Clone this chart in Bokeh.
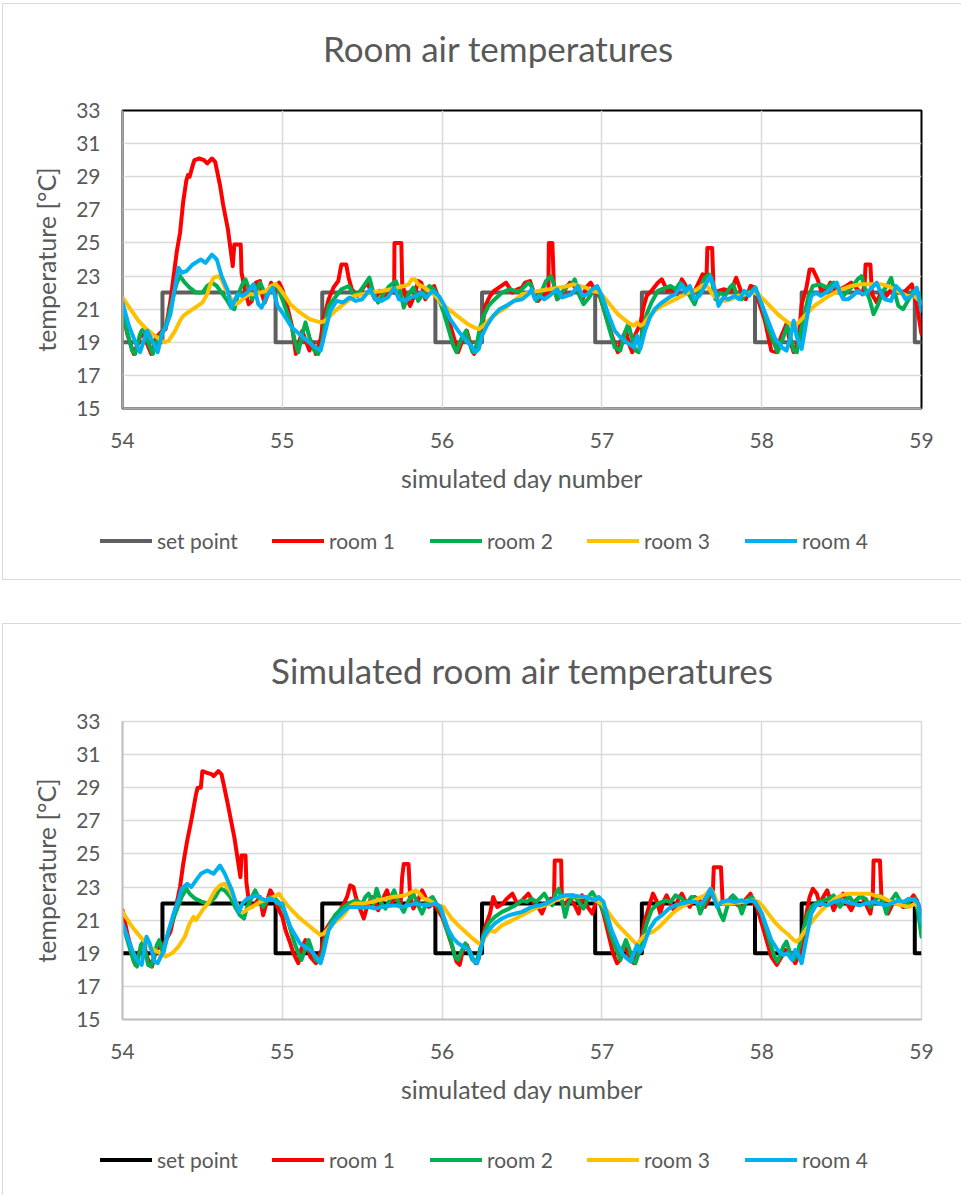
from bokeh.plotting import figure
from bokeh.models import Range1d, FixedTicker, Div
from bokeh.layouts import column
from bokeh.embed import file_html
from bokeh.resources import INLINE

# ---------------- data ----------------
x_ticks = [54, 55, 56, 57, 58, 59]
y_ticks = [15, 17, 19, 21, 23, 25, 27, 29, 31, 33]

setpoint_day = [54, 54.25, 54.958, 55.25, 55.958, 56.25, 56.958, 57.25, 57.958, 58.25, 58.958, 59]
setpoint_temp = [19, 22, 19, 22, 19, 22, 19, 22, 19, 22, 19, 19]

top_room1 = [
    (54.00, 21.0), (54.03, 19.5), (54.07, 18.3), (54.10, 19.0), (54.12, 19.7), (54.15, 19.0), (54.18, 18.3),
    (54.21, 19.3), (54.24, 19.6), (54.27, 19.8), (54.30, 21.5), (54.34, 24.5), (54.36, 25.6), (54.38, 27.5),
    (54.40, 28.8), (54.41, 29.1), (54.42, 29.0), (54.44, 29.7), (54.45, 30.0), (54.48, 30.1), (54.51, 30.0),
    (54.53, 29.8), (54.56, 30.1), (54.58, 29.9), (54.61, 28.5), (54.63, 27.3), (54.66, 25.8), (54.69, 23.6),
    (54.70, 24.9), (54.74, 24.9), (54.745, 23.2), (54.77, 22.0), (54.79, 21.3), (54.81, 21.5), (54.835, 22.6),
    (54.86, 22.7), (54.875, 21.8), (54.89, 21.4), (54.91, 21.9), (54.93, 22.6), (54.955, 22.0), (54.98, 22.6),
    (55.00, 22.2), (55.03, 21.2), (55.06, 20.0), (55.085, 18.3), (55.125, 19.7), (55.15, 19.0), (55.17, 18.5),
    (55.19, 19.0), (55.21, 18.3), (55.24, 19.2), (55.26, 20.5), (55.29, 21.6), (55.32, 22.3), (55.35, 22.7),
    (55.37, 23.7), (55.40, 23.7), (55.415, 22.9), (55.435, 22.2), (55.47, 21.8), (55.50, 22.2), (55.53, 22.6),
    (55.56, 22.0), (55.58, 21.6), (55.61, 22.1), (55.64, 21.8), (55.675, 22.2), (55.70, 22.0), (55.702, 25.0),
    (55.745, 25.0), (55.75, 22.6), (55.77, 21.8), (55.80, 21.2), (55.83, 21.9), (55.85, 22.7), (55.87, 22.6),
    (55.895, 21.6), (55.92, 22.0), (55.95, 22.4), (55.98, 21.6), (56.01, 21.2), (56.04, 20.4), (56.07, 19.4),
    (56.10, 18.4), (56.13, 19.2), (56.155, 19.7), (56.18, 18.8), (56.20, 18.3), (56.23, 19.0), (56.25, 19.8),
    (56.27, 21.2), (56.30, 21.8), (56.325, 22.1), (56.355, 22.3), (56.40, 22.6), (56.44, 22.0), (56.47, 22.2),
    (56.50, 22.3), (56.52, 22.6), (56.55, 22.7), (56.57, 22.1), (56.60, 21.5), (56.63, 21.8), (56.665, 22.0),
    (56.668, 25.0), (56.69, 25.0), (56.70, 22.3), (56.72, 21.6), (56.75, 21.9), (56.77, 22.2), (56.80, 22.6),
    (56.82, 22.5), (56.85, 22.0), (56.88, 21.6), (56.90, 22.3), (56.93, 22.6), (56.96, 22.1), (56.99, 21.7),
    (57.04, 20.1), (57.08, 18.9), (57.10, 18.4), (57.12, 19.1), (57.15, 19.7), (57.17, 18.9), (57.19, 18.4),
    (57.21, 19.5), (57.24, 20.1), (57.26, 21.1), (57.28, 21.8), (57.31, 22.1), (57.35, 22.6), (57.375, 22.8),
    (57.41, 22.1), (57.44, 22.2), (57.47, 21.9), (57.50, 22.8), (57.52, 22.5), (57.54, 22.1), (57.57, 21.9),
    (57.60, 22.5), (57.63, 23.1), (57.655, 23.0), (57.66, 24.7), (57.69, 24.7), (57.70, 21.9), (57.73, 22.1),
    (57.76, 22.2), (57.81, 22.1), (57.84, 22.9), (57.87, 22.1), (57.90, 21.6), (57.93, 22.4), (57.96, 22.3),
    (57.98, 21.5), (58.02, 20.3), (58.06, 18.5), (58.09, 18.4), (58.12, 19.3), (58.155, 20.1), (58.175, 19.1),
    (58.20, 18.4), (58.23, 19.1), (58.25, 21.3), (58.28, 22.3), (58.30, 23.4), (58.32, 23.4), (58.35, 22.8),
    (58.37, 22.2), (58.40, 22.1), (58.43, 22.6), (58.46, 22.1), (58.49, 22.2), (58.53, 22.4), (58.56, 22.6),
    (58.60, 22.2), (58.63, 21.9), (58.645, 22.6), (58.65, 23.7), (58.68, 23.7), (58.69, 21.9), (58.72, 21.4),
    (58.75, 22.1), (58.78, 21.8), (58.82, 22.3), (58.86, 22.0), (58.90, 22.1), (58.94, 22.5), (58.97, 21.3),
    (59.00, 19.5),
]

top_room2 = [
    (54.00, 20.8), (54.03, 19.6), (54.06, 18.5), (54.08, 18.3), (54.11, 19.5), (54.13, 19.8), (54.16, 19.0),
    (54.19, 18.3), (54.22, 19.2), (54.25, 19.6), (54.28, 20.2), (54.31, 21.5), (54.34, 22.6), (54.36, 23.0),
    (54.39, 22.6), (54.42, 22.3), (54.46, 22.0), (54.50, 22.0), (54.53, 22.4), (54.56, 22.6), (54.59, 22.4),
    (54.62, 22.0), (54.65, 21.6), (54.68, 21.1), (54.70, 21.0), (54.72, 21.8), (54.75, 22.5), (54.77, 22.8),
    (54.79, 22.3), (54.81, 21.6), (54.84, 22.2), (54.86, 22.6), (54.88, 22.2), (54.90, 21.8), (54.93, 22.4),
    (54.96, 22.5), (54.98, 22.1), (55.00, 21.6), (55.03, 20.8), (55.06, 19.9), (55.08, 19.0), (55.10, 18.4),
    (55.12, 19.3), (55.145, 20.2), (55.17, 19.3), (55.20, 18.5), (55.225, 18.3), (55.25, 19.0), (55.27, 20.4),
    (55.29, 21.2), (55.33, 21.7), (55.37, 22.2), (55.415, 22.4), (55.445, 21.9), (55.48, 22.0), (55.51, 22.4),
    (55.545, 22.9), (55.57, 22.0), (55.60, 21.4), (55.63, 21.9), (55.67, 22.4), (55.71, 22.7), (55.74, 22.0),
    (55.76, 21.1), (55.79, 21.9), (55.82, 22.3), (55.85, 21.5), (55.88, 21.9), (55.92, 22.4), (55.95, 22.2),
    (55.98, 21.6), (56.01, 20.8), (56.04, 19.8), (56.07, 18.8), (56.09, 18.4), (56.12, 19.2), (56.15, 19.7),
    (56.17, 19.0), (56.19, 18.4), (56.215, 18.8), (56.235, 19.8), (56.26, 20.6), (56.29, 21.2), (56.33, 21.6),
    (56.375, 22.0), (56.42, 22.2), (56.46, 22.1), (56.49, 22.1), (56.51, 22.3), (56.54, 22.6), (56.56, 22.4),
    (56.59, 21.5), (56.62, 22.0), (56.65, 22.7), (56.68, 23.0), (56.70, 22.5), (56.72, 21.6), (56.75, 22.0),
    (56.78, 22.4), (56.81, 22.5), (56.83, 22.8), (56.86, 21.8), (56.885, 21.3), (56.92, 21.7), (56.95, 22.2),
    (56.98, 22.0), (57.01, 21.1), (57.05, 19.7), (57.08, 18.7), (57.115, 18.5), (57.145, 19.6), (57.165, 20.1),
    (57.19, 19.2), (57.21, 18.5), (57.23, 18.4), (57.25, 19.5), (57.28, 20.7), (57.31, 21.4), (57.35, 22.1),
    (57.40, 22.3), (57.43, 22.4), (57.46, 22.2), (57.49, 22.6), (57.52, 22.3), (57.55, 21.8), (57.58, 21.3),
    (57.61, 22.1), (57.645, 22.9), (57.67, 23.1), (57.69, 22.6), (57.71, 21.6), (57.74, 22.0), (57.77, 21.8),
    (57.80, 22.3), (57.82, 22.5), (57.84, 22.0), (57.875, 21.6), (57.905, 22.0), (57.935, 22.1), (57.96, 22.3),
    (58.00, 21.3), (58.04, 19.9), (58.07, 19.1), (58.10, 18.4), (58.135, 19.3), (58.16, 20.0), (58.18, 19.3),
    (58.20, 18.5), (58.22, 18.4), (58.24, 19.5), (58.26, 20.3), (58.29, 21.7), (58.32, 22.4), (58.365, 22.5),
    (58.41, 22.3), (58.45, 22.6), (58.48, 22.2), (58.51, 21.8), (58.54, 22.1), (58.57, 22.4), (58.60, 22.8),
    (58.625, 23.0), (58.645, 22.3), (58.675, 21.6), (58.70, 20.7), (58.725, 21.2), (58.76, 22.1), (58.79, 22.5),
    (58.81, 22.9), (58.83, 22.1), (58.855, 21.2), (58.885, 21.0), (58.92, 21.6), (58.95, 22.1), (58.98, 22.0),
    (59.00, 21.3),
]

top_room3 = [
    (54.00, 21.7), (54.05, 21.0), (54.10, 20.3), (54.15, 19.8), (54.20, 19.4), (54.23, 19.2), (54.26, 19.0),
    (54.29, 19.1), (54.33, 19.7), (54.36, 20.3), (54.38, 20.6), (54.41, 20.8), (54.44, 21.0), (54.47, 21.2),
    (54.50, 21.4), (54.53, 21.9), (54.55, 22.5), (54.57, 22.9), (54.60, 23.0), (54.62, 22.8), (54.64, 22.3),
    (54.67, 21.8), (54.70, 21.3), (54.73, 21.4), (54.76, 21.7), (54.79, 21.9), (54.83, 21.9), (54.86, 22.0),
    (54.90, 22.1), (54.93, 22.4), (54.96, 22.5), (54.98, 22.3), (55.01, 21.9), (55.05, 21.3), (55.11, 20.8),
    (55.17, 20.4), (55.24, 20.2), (55.27, 20.3), (55.30, 20.6), (55.33, 20.9), (55.37, 21.2), (55.41, 21.5),
    (55.45, 21.8), (55.50, 21.9), (55.55, 22.0), (55.62, 22.1), (55.68, 22.2), (55.72, 22.3), (55.76, 22.4),
    (55.79, 22.5), (55.81, 22.8), (55.83, 22.8), (55.85, 22.5), (55.89, 22.3), (55.93, 22.0), (55.96, 21.8),
    (56.00, 21.3), (56.04, 21.0), (56.08, 20.7), (56.12, 20.4), (56.16, 20.1), (56.20, 19.9), (56.23, 19.8),
    (56.26, 20.0), (56.30, 20.4), (56.35, 20.8), (56.40, 21.1), (56.45, 21.5), (56.50, 21.9), (56.55, 22.0),
    (56.60, 22.1), (56.67, 22.2), (56.73, 22.3), (56.79, 22.4), (56.82, 22.5), (56.86, 22.4), (56.90, 22.3),
    (56.94, 22.1), (56.99, 22.0), (57.04, 21.4), (57.10, 20.7), (57.15, 20.3), (57.18, 20.1), (57.20, 20.0),
    (57.22, 20.2), (57.24, 20.0), (57.26, 20.1), (57.29, 20.5), (57.33, 20.9), (57.375, 21.2), (57.42, 21.4),
    (57.46, 21.6), (57.50, 21.8), (57.54, 22.0), (57.58, 22.1), (57.625, 22.4), (57.645, 22.5), (57.665, 22.3),
    (57.70, 21.8), (57.73, 21.6), (57.77, 21.5), (57.81, 21.6), (57.85, 21.8), (57.90, 21.9), (57.94, 22.0),
    (57.98, 21.9), (58.02, 21.5), (58.06, 21.1), (58.10, 20.7), (58.15, 20.3), (58.18, 20.1), (58.20, 20.2),
    (58.22, 20.1), (58.25, 20.4), (58.29, 20.8), (58.33, 21.2), (58.375, 21.5), (58.42, 21.8), (58.46, 22.0),
    (58.50, 22.2), (58.56, 22.4), (58.625, 22.5), (58.69, 22.5), (58.75, 22.5), (58.79, 22.4), (58.83, 22.2),
    (58.87, 22.0), (58.91, 21.8), (58.955, 21.8), (59.00, 21.4),
]

top_room4 = [
    (54.00, 21.4), (54.04, 20.0), (54.08, 19.0), (54.11, 18.4), (54.155, 19.7), (54.19, 19.0), (54.22, 18.4),
    (54.25, 19.6), (54.27, 19.9), (54.30, 20.7), (54.33, 22.4), (54.35, 23.5), (54.37, 23.2), (54.40, 23.3),
    (54.44, 23.7), (54.49, 24.0), (54.52, 23.8), (54.56, 24.3), (54.59, 24.0), (54.62, 23.0), (54.66, 22.1),
    (54.68, 21.1), (54.72, 21.9), (54.75, 21.8), (54.78, 22.0), (54.82, 22.5), (54.85, 21.3), (54.87, 21.1),
    (54.91, 21.9), (54.94, 22.3), (54.97, 21.2), (55.00, 20.8), (55.06, 19.9), (55.13, 19.3), (55.19, 18.8),
    (55.24, 18.5), (55.27, 19.7), (55.30, 20.9), (55.34, 21.5), (55.38, 21.4), (55.42, 21.7), (55.46, 21.5),
    (55.50, 21.6), (55.55, 22.2), (55.58, 21.6), (55.62, 21.5), (55.66, 21.7), (55.70, 22.3), (55.73, 21.6),
    (55.77, 21.5), (55.80, 21.7), (55.84, 21.8), (55.87, 22.0), (55.90, 21.7), (55.94, 22.1), (55.98, 21.8),
    (56.01, 21.3), (56.05, 20.4), (56.10, 19.7), (56.15, 19.1), (56.18, 18.8), (56.21, 18.4), (56.23, 18.6),
    (56.25, 19.4), (56.28, 20.0), (56.32, 20.6), (56.36, 21.0), (56.40, 21.2), (56.45, 21.5), (56.50, 21.6),
    (56.54, 21.9), (56.56, 22.2), (56.58, 21.6), (56.61, 21.8), (56.64, 21.6), (56.67, 21.8), (56.72, 22.2),
    (56.75, 21.7), (56.78, 21.8), (56.81, 21.9), (56.85, 22.4), (56.88, 21.8), (56.91, 21.9), (56.94, 22.2),
    (56.97, 22.4), (57.00, 21.8), (57.04, 20.7), (57.08, 19.7), (57.125, 19.2), (57.17, 18.9), (57.20, 18.7),
    (57.22, 19.4), (57.24, 18.6), (57.27, 19.7), (57.30, 20.5), (57.33, 21.0), (57.375, 21.4), (57.42, 21.7),
    (57.46, 21.9), (57.50, 22.5), (57.52, 22.0), (57.55, 22.4), (57.58, 21.6), (57.61, 21.8), (57.65, 22.5),
    (57.68, 23.0), (57.71, 22.1), (57.73, 21.2), (57.76, 21.7), (57.79, 21.6), (57.83, 21.8), (57.86, 21.6),
    (57.89, 22.1), (57.92, 21.8), (57.96, 22.3), (58.00, 21.3), (58.04, 20.3), (58.08, 19.3), (58.125, 18.7),
    (58.155, 18.5), (58.18, 19.3), (58.20, 20.3), (58.22, 19.3), (58.25, 18.6), (58.27, 19.7), (58.29, 20.9),
    (58.31, 21.8), (58.34, 22.0), (58.37, 21.8), (58.40, 22.0), (58.44, 22.3), (58.47, 22.6), (58.49, 22.0),
    (58.51, 21.6), (58.54, 21.6), (58.57, 21.8), (58.60, 22.1), (58.635, 21.9), (58.66, 22.0), (58.70, 22.4),
    (58.72, 22.6), (58.74, 22.1), (58.77, 21.6), (58.81, 21.5), (58.84, 22.4), (58.87, 22.1), (58.90, 21.6),
    (58.94, 21.8), (58.97, 22.3), (59.00, 20.9),
]

bottom_room1 = [
    (54.00, 21.6), (54.03, 20.2), (54.08, 18.3), (54.11, 19.2), (54.13, 19.7), (54.16, 18.6), (54.185, 18.2),
    (54.21, 19.2), (54.235, 19.4), (54.26, 19.6), (54.30, 20.3), (54.33, 21.6), (54.36, 23.0), (54.38, 24.4),
    (54.405, 25.8), (54.43, 27.0), (54.46, 28.6), (54.47, 29.0), (54.49, 29.0), (54.50, 30.0), (54.53, 29.9),
    (54.56, 29.8), (54.57, 29.7), (54.60, 30.0), (54.62, 29.8), (54.655, 28.2), (54.70, 26.0), (54.738, 23.6),
    (54.745, 24.9), (54.77, 24.9), (54.775, 23.3), (54.79, 22.2), (54.81, 21.8), (54.83, 22.0), (54.86, 22.4),
    (54.88, 21.3), (54.90, 22.0), (54.925, 22.8), (54.95, 22.4), (54.97, 21.8), (55.00, 21.2), (55.02, 20.4),
    (55.05, 19.6), (55.07, 19.0), (55.10, 18.4), (55.12, 19.3), (55.145, 19.8), (55.175, 18.8), (55.21, 18.4),
    (55.245, 19.2), (55.27, 20.4), (55.31, 21.0), (55.35, 21.4), (55.385, 22.0), (55.405, 22.4), (55.425, 23.1),
    (55.445, 23.0), (55.46, 22.4), (55.49, 21.6), (55.51, 21.1), (55.53, 21.8), (55.56, 22.4), (55.58, 22.1),
    (55.60, 21.6), (55.635, 22.4), (55.655, 22.8), (55.68, 22.0), (55.71, 22.4), (55.74, 21.9), (55.75, 23.6),
    (55.76, 24.4), (55.79, 24.4), (55.80, 22.4), (55.82, 21.7), (55.85, 22.2), (55.875, 22.8), (55.895, 22.4),
    (55.915, 21.8), (55.95, 22.0), (55.975, 21.6), (56.00, 21.2), (56.03, 20.4), (56.06, 19.5), (56.09, 18.5),
    (56.11, 18.3), (56.13, 19.2), (56.155, 19.5), (56.19, 18.7), (56.21, 18.4), (56.23, 18.7), (56.25, 19.8),
    (56.27, 20.6), (56.30, 21.4), (56.32, 22.4), (56.345, 21.8), (56.38, 22.0), (56.405, 22.3), (56.44, 22.6),
    (56.47, 22.0), (56.50, 22.2), (56.54, 22.6), (56.57, 22.1), (56.60, 21.8), (56.625, 21.4), (56.65, 22.0),
    (56.68, 22.3), (56.70, 22.2), (56.705, 24.6), (56.745, 24.6), (56.75, 22.1), (56.77, 22.0), (56.80, 22.3),
    (56.83, 21.9), (56.855, 21.4), (56.875, 22.5), (56.91, 21.8), (56.94, 21.4), (56.97, 22.3), (56.99, 22.0),
    (57.01, 21.4), (57.04, 20.2), (57.07, 19.0), (57.095, 18.4), (57.115, 18.6), (57.135, 19.4), (57.155, 19.2),
    (57.18, 18.6), (57.20, 18.4), (57.23, 19.2), (57.25, 20.0), (57.27, 21.0), (57.30, 22.0), (57.32, 22.6),
    (57.345, 22.1), (57.365, 21.4), (57.385, 22.1), (57.405, 22.5), (57.43, 22.0), (57.45, 21.6), (57.475, 22.2),
    (57.50, 22.6), (57.52, 22.2), (57.55, 21.8), (57.58, 22.4), (57.61, 22.2), (57.645, 21.8), (57.675, 22.4),
    (57.695, 22.8), (57.70, 24.2), (57.745, 24.2), (57.755, 22.2), (57.78, 22.0), (57.81, 22.4), (57.84, 22.0),
    (57.865, 21.8), (57.895, 22.2), (57.93, 22.6), (57.95, 22.0), (57.97, 21.8), (58.00, 20.8), (58.03, 19.8),
    (58.06, 18.8), (58.095, 18.3), (58.125, 18.8), (58.15, 19.2), (58.18, 18.9), (58.21, 18.4), (58.24, 19.0),
    (58.26, 20.0), (58.28, 21.4), (58.30, 22.4), (58.32, 22.9), (58.345, 22.6), (58.365, 21.9), (58.385, 22.4),
    (58.41, 22.8), (58.43, 22.2), (58.45, 21.6), (58.48, 22.2), (58.51, 22.6), (58.535, 22.0), (58.56, 21.6),
    (58.59, 22.2), (58.625, 22.5), (58.65, 22.0), (58.68, 21.4), (58.695, 22.3), (58.70, 24.6), (58.74, 24.6),
    (58.75, 22.2), (58.77, 22.0), (58.79, 21.4), (58.82, 22.0), (58.85, 22.1), (58.885, 21.8), (58.92, 22.1),
    (58.95, 22.5), (58.97, 22.2), (59.00, 21.4),
]

bottom_room2 = [
    (54.00, 20.8), (54.03, 19.8), (54.07, 18.5), (54.09, 18.2), (54.115, 19.5), (54.13, 19.7), (54.16, 18.3),
    (54.18, 18.2), (54.215, 19.5), (54.23, 19.8), (54.255, 19.0), (54.29, 20.4), (54.33, 21.4), (54.37, 22.4),
    (54.40, 22.9), (54.42, 22.6), (54.455, 22.3), (54.50, 22.1), (54.54, 22.0), (54.58, 22.4), (54.61, 22.9),
    (54.64, 22.8), (54.675, 22.4), (54.705, 21.8), (54.735, 21.3), (54.76, 21.1), (54.78, 21.8), (54.80, 22.2),
    (54.83, 22.8), (54.85, 22.4), (54.88, 21.8), (54.905, 22.2), (54.925, 22.4), (54.955, 22.3), (54.985, 22.0),
    (55.01, 21.6), (55.04, 20.8), (55.07, 19.8), (55.10, 19.0), (55.12, 18.6), (55.145, 19.3), (55.165, 19.8),
    (55.185, 19.2), (55.21, 18.6), (55.23, 18.5), (55.25, 18.9), (55.27, 19.9), (55.30, 20.8), (55.33, 21.3),
    (55.37, 21.7), (55.415, 22.0), (55.46, 22.2), (55.50, 22.0), (55.52, 22.4), (55.54, 22.6), (55.57, 22.0),
    (55.59, 22.9), (55.62, 22.0), (55.645, 21.7), (55.68, 22.4), (55.70, 22.8), (55.73, 22.0), (55.76, 21.5),
    (55.79, 22.2), (55.82, 22.6), (55.85, 21.9), (55.875, 21.4), (55.91, 22.2), (55.94, 22.4), (55.97, 21.9),
    (56.00, 21.4), (56.03, 20.4), (56.06, 19.6), (56.08, 18.8), (56.10, 18.6), (56.125, 19.2), (56.145, 19.6),
    (56.165, 19.2), (56.19, 18.6), (56.215, 18.5), (56.24, 19.3), (56.26, 20.1), (56.29, 20.8), (56.33, 21.2),
    (56.375, 21.5), (56.42, 21.7), (56.46, 21.9), (56.50, 22.2), (56.53, 22.1), (56.56, 22.3), (56.59, 22.1),
    (56.64, 22.6), (56.67, 22.1), (56.69, 21.9), (56.71, 22.6), (56.73, 22.9), (56.75, 22.2), (56.77, 21.2),
    (56.79, 22.0), (56.82, 22.5), (56.85, 22.2), (56.885, 21.7), (56.915, 22.4), (56.94, 22.7), (56.97, 22.2),
    (57.00, 21.8), (57.03, 21.0), (57.06, 20.0), (57.095, 19.1), (57.115, 18.6), (57.135, 19.4), (57.15, 19.8),
    (57.17, 19.3), (57.19, 18.6), (57.21, 18.4), (57.23, 19.0), (57.25, 19.7), (57.28, 20.8), (57.31, 21.6),
    (57.35, 22.0), (57.40, 22.2), (57.43, 22.1), (57.46, 22.5), (57.50, 22.3), (57.53, 22.0), (57.56, 22.4),
    (57.59, 22.3), (57.615, 21.4), (57.645, 22.1), (57.68, 22.7), (57.71, 22.2), (57.74, 21.4), (57.76, 21.0),
    (57.79, 22.0), (57.82, 22.5), (57.85, 22.2), (57.875, 21.4), (57.905, 22.2), (57.94, 22.4), (57.965, 22.0),
    (58.00, 21.4), (58.03, 20.4), (58.06, 19.4), (58.08, 18.8), (58.10, 18.5), (58.135, 19.4), (58.155, 19.7),
    (58.175, 19.1), (58.20, 18.6), (58.22, 18.9), (58.24, 19.6), (58.26, 20.4), (58.29, 21.4), (58.32, 21.9),
    (58.355, 22.1), (58.39, 22.2), (58.42, 22.3), (58.45, 22.5), (58.47, 22.1), (58.49, 21.8), (58.52, 22.2),
    (58.55, 22.4), (58.58, 22.0), (58.61, 22.4), (58.65, 22.3), (58.68, 21.8), (58.71, 22.2), (58.74, 22.5),
    (58.76, 22.1), (58.78, 21.4), (58.81, 22.2), (58.84, 22.6), (58.87, 22.1), (58.90, 21.8), (58.93, 22.2),
    (58.96, 22.3), (58.98, 21.4), (59.00, 20.0),
]

bottom_room3 = [
    (54.00, 21.5), (54.06, 20.6), (54.12, 19.9), (54.18, 19.3), (54.235, 19.0), (54.27, 18.8), (54.31, 19.0),
    (54.35, 19.4), (54.39, 20.0), (54.42, 20.8), (54.445, 21.2), (54.46, 21.0), (54.50, 21.6), (54.54, 22.1),
    (54.58, 22.8), (54.61, 23.1), (54.64, 23.2), (54.67, 22.8), (54.705, 22.2), (54.74, 21.5), (54.76, 21.5),
    (54.79, 21.7), (54.83, 21.9), (54.86, 22.1), (54.89, 22.2), (54.93, 22.3), (54.96, 22.5), (54.98, 22.6),
    (55.00, 22.3), (55.04, 21.8), (55.10, 21.2), (55.15, 20.8), (55.20, 20.4), (55.24, 20.1), (55.26, 20.2),
    (55.29, 20.5), (55.32, 20.8), (55.36, 21.1), (55.39, 21.4), (55.42, 21.8), (55.45, 22.0), (55.50, 22.0),
    (55.56, 22.1), (55.60, 22.2), (55.645, 22.3), (55.69, 22.4), (55.73, 22.45), (55.77, 22.5), (55.81, 22.7),
    (55.835, 22.8), (55.86, 22.6), (55.885, 22.3), (55.92, 22.2), (55.95, 22.0), (55.98, 21.9), (56.01, 21.8),
    (56.03, 21.5), (56.06, 21.1), (56.10, 20.7), (56.145, 20.3), (56.19, 19.9), (56.23, 19.6), (56.25, 19.6),
    (56.27, 20.0), (56.30, 20.4), (56.33, 20.3), (56.375, 20.7), (56.42, 20.9), (56.46, 21.1), (56.50, 21.3),
    (56.56, 21.6), (56.60, 21.8), (56.65, 21.9), (56.69, 22.1), (56.73, 22.3), (56.77, 22.4), (56.81, 22.5),
    (56.855, 22.4), (56.90, 22.4), (56.94, 22.3), (57.00, 22.0), (57.03, 21.6), (57.06, 21.2), (57.10, 20.7),
    (57.15, 20.2), (57.18, 19.9), (57.20, 19.7), (57.22, 19.5), (57.24, 19.8), (57.26, 20.0), (57.29, 20.2),
    (57.32, 20.3), (57.36, 20.6), (57.40, 21.0), (57.44, 21.4), (57.48, 21.7), (57.52, 21.9), (57.56, 22.1),
    (57.60, 22.3), (57.645, 22.5), (57.68, 22.9), (57.70, 22.6), (57.72, 22.1), (57.75, 22.0), (57.80, 22.0),
    (57.875, 22.1), (57.95, 22.2), (57.98, 22.1), (58.01, 21.8), (58.04, 21.4), (58.08, 20.9), (58.12, 20.5),
    (58.17, 20.1), (58.20, 19.8), (58.22, 19.7), (58.24, 19.9), (58.26, 20.2), (58.29, 20.6), (58.33, 21.1),
    (58.375, 21.6), (58.42, 22.0), (58.46, 22.3), (58.50, 22.5), (58.54, 22.6), (58.58, 22.6), (58.625, 22.6),
    (58.67, 22.6), (58.71, 22.5), (58.75, 22.4), (58.79, 22.2), (58.83, 22.0), (58.875, 21.9), (58.92, 21.8),
    (58.96, 22.0), (58.98, 21.8), (59.00, 21.2),
]

bottom_room4 = [
    (54.00, 20.8), (54.03, 20.0), (54.06, 19.2), (54.09, 18.6), (54.12, 18.3), (54.15, 20.0), (54.17, 19.6),
    (54.20, 18.5), (54.22, 18.4), (54.25, 19.0), (54.26, 19.3), (54.29, 20.4), (54.32, 21.4), (54.35, 22.2),
    (54.37, 22.9), (54.405, 23.2), (54.43, 23.0), (54.46, 23.4), (54.49, 23.8), (54.53, 24.0), (54.57, 23.8),
    (54.61, 24.3), (54.64, 23.8), (54.685, 22.8), (54.71, 22.0), (54.73, 21.5), (54.75, 22.0), (54.78, 22.3),
    (54.81, 22.4), (54.84, 22.5), (54.87, 22.3), (54.90, 22.2), (54.93, 22.3), (54.95, 22.2), (54.975, 22.0),
    (55.00, 22.0), (55.02, 21.4), (55.05, 20.6), (55.08, 20.1), (55.11, 19.6), (55.14, 19.4), (55.175, 19.2),
    (55.21, 18.8), (55.24, 18.4), (55.26, 19.1), (55.29, 20.4), (55.33, 21.0), (55.37, 21.4), (55.415, 21.8),
    (55.46, 21.8), (55.50, 21.75), (55.54, 21.8), (55.58, 21.7), (55.62, 21.8), (55.66, 21.85), (55.71, 21.9),
    (55.75, 21.8), (55.79, 21.9), (55.83, 22.0), (55.87, 21.95), (55.91, 21.9), (55.96, 22.0), (55.99, 21.8),
    (56.01, 21.2), (56.04, 20.4), (56.07, 19.9), (56.10, 19.6), (56.135, 19.4), (56.17, 19.2), (56.20, 18.5),
    (56.22, 18.4), (56.24, 19.1), (56.26, 20.0), (56.29, 20.4), (56.33, 20.8), (56.375, 21.1), (56.42, 21.3),
    (56.46, 21.4), (56.50, 21.5), (56.56, 21.8), (56.61, 21.9), (56.65, 22.0), (56.69, 22.2), (56.73, 22.4),
    (56.77, 22.5), (56.81, 22.5), (56.85, 22.45), (56.90, 22.4), (56.93, 22.3), (56.96, 22.2), (56.98, 22.4),
    (57.01, 22.1), (57.03, 21.4), (57.06, 20.4), (57.095, 19.6), (57.125, 19.0), (57.155, 18.7), (57.18, 18.5),
    (57.20, 19.0), (57.22, 19.5), (57.24, 19.1), (57.26, 19.4), (57.28, 20.0), (57.30, 20.5), (57.335, 21.0),
    (57.375, 21.3), (57.42, 21.7), (57.46, 21.9), (57.50, 22.0), (57.54, 22.1), (57.58, 22.1), (57.625, 22.0),
    (57.66, 22.5), (57.68, 22.9), (57.70, 22.4), (57.72, 21.8), (57.75, 22.1), (57.79, 22.2), (57.83, 22.1),
    (57.875, 22.2), (57.91, 22.1), (57.935, 22.2), (57.96, 22.1), (58.00, 21.4), (58.03, 20.6), (58.06, 19.8),
    (58.10, 19.2), (58.135, 18.9), (58.16, 19.0), (58.19, 18.6), (58.21, 19.2), (58.23, 18.9), (58.25, 18.4),
    (58.27, 19.4), (58.29, 20.4), (58.31, 21.4), (58.34, 21.9), (58.375, 22.0), (58.41, 21.9), (58.45, 22.1),
    (58.49, 22.2), (58.53, 22.1), (58.57, 22.0), (58.61, 21.9), (58.65, 22.0), (58.70, 22.1), (58.74, 22.0),
    (58.77, 21.9), (58.81, 22.0), (58.855, 22.2), (58.89, 22.1), (58.92, 22.3), (58.96, 22.2), (58.98, 22.0),
    (59.00, 20.8),
]

series_labels = ["set point", "room 1", "room 2", "room 3", "room 4"]
series_colors = ["#FF0000", "#00B050", "#FFC000", "#00B0F0"]

# ---------------- styling ----------------
FONT = "Lato"
TXT = "#595959"
W = 961
LW = 4
LEGEND_X = [100, 272, 430, 587, 745]   # left edge of each legend line sample (px)
EDGE = "#d9d9d9"


def title_div(text, center_x, height, center_y):
    html = (
        f'<div style="position:relative;width:{W}px;height:{height}px;">'
        f'<div style="position:absolute;left:{center_x - 400}px;top:{center_y - 20}px;'
        f'width:800px;text-align:center;font-family:{FONT};font-size:35px;'
        f'line-height:40px;color:{TXT};white-space:nowrap;">{text}</div></div>'
    )
    return Div(text=html, width=W, height=height, margin=(0, 0, 0, 0))


def legend_div(colors, height, center_y):
    parts = [f'<div style="position:relative;width:{W}px;height:{height}px;">']
    for x0, lab, col in zip(LEGEND_X, series_labels, colors):
        parts.append(
            f'<div style="position:absolute;left:{x0}px;top:{center_y - 2}px;width:52px;'
            f'height:4px;background:{col};"></div>'
        )
        parts.append(
            f'<div style="position:absolute;left:{x0 + 57}px;top:{center_y - 13}px;'
            f'font-family:{FONT};font-size:21px;line-height:26px;color:{TXT};'
            f'white-space:nowrap;">{lab}</div>'
        )
    parts.append('</div>')
    return Div(text="".join(parts), width=W, height=height, margin=(0, 0, 0, 0))


def main_chart(rooms, sp_color, axis_color, outline_color, outline_width, border_top, height):
    p = figure(width=W, height=height, x_range=Range1d(54, 59), y_range=Range1d(15, 33),
               output_backend="svg", toolbar_location=None,
               min_border_left=122, min_border_right=40,
               min_border_top=border_top, min_border_bottom=height - border_top - 298)
    p.outline_line_color = outline_color
    p.outline_line_width = outline_width
    p.background_fill_color = "white"
    p.border_fill_alpha = 0
    p.xaxis.ticker = FixedTicker(ticks=x_ticks)
    p.yaxis.ticker = FixedTicker(ticks=y_ticks)
    for ax in (p.xaxis, p.yaxis):
        ax.major_tick_line_color = None
        ax.minor_tick_line_color = None
        ax.major_tick_out = 0
        ax.major_tick_in = 0
        ax.axis_line_color = axis_color
        ax.axis_line_width = 2
        ax.major_label_text_font = FONT
        ax.major_label_text_font_size = "21px"
        ax.major_label_text_color = TXT
        ax.axis_label_text_font = FONT
        ax.axis_label_text_font_size = "25px"
        ax.axis_label_text_color = TXT
        ax.axis_label_text_font_style = "normal"
    p.xaxis.axis_label = "simulated day number"
    p.yaxis.axis_label = "temperature [°C]"
    p.xaxis.major_label_standoff = 24
    p.xaxis.axis_label_standoff = 12
    p.yaxis.major_label_standoff = 22
    p.yaxis.axis_label_standoff = 12
    p.xgrid.grid_line_color = "#d9d9d9"
    p.ygrid.grid_line_color = "#d9d9d9"
    p.xgrid.grid_line_width = 1.5
    p.ygrid.grid_line_width = 1.5

    p.step(setpoint_day, setpoint_temp, mode="after", line_color=sp_color, line_width=LW,
           line_join="round")
    for pts, col in zip(rooms, series_colors):
        xs = [d for d, t in pts]
        ys = [t for d, t in pts]
        p.line(xs, ys, line_color=col, line_width=LW, line_join="round", line_cap="round")
    return p


# panel borders: left edge at x=2, top edge at y=3 (top panel) and bottom edge (top panel);
# the right edges of both panels and the bottom edge of the lower panel lie outside the page
style1 = {"box-shadow": (f"inset 2px 3px 0 0 white, inset 3px 4px 0 0 {EDGE}, "
                         f"inset 0 -1px 0 0 {EDGE}")}
style2 = {"box-shadow": f"inset 2px 0 0 0 white, inset 3px 1px 0 0 {EDGE}"}

top_sp = "#5f5f5f"
panel1 = column(
    title_div("Room air temperatures", 498, 80, 48),
    main_chart([top_room1, top_room2, top_room3, top_room4], top_sp, "#a6a6a6", "black", 2, 30, 420),
    legend_div([top_sp] + series_colors, 80, 41),
    spacing=0, styles=style1,
)

bot_sp = "#000000"
panel2 = column(
    title_div("Simulated room air temperatures", 522, 70, 47),
    main_chart([bottom_room1, bottom_room2, bottom_room3, bottom_room4], bot_sp, "#bfbfbf",
               "#d9d9d9", 1.5, 28, 417),
    legend_div([bot_sp] + series_colors, 85, 50),
    spacing=0, styles=style2,
)

layout = column(panel1, panel2, spacing=43)
open("out.html", "w").write(file_html(layout, INLINE))
